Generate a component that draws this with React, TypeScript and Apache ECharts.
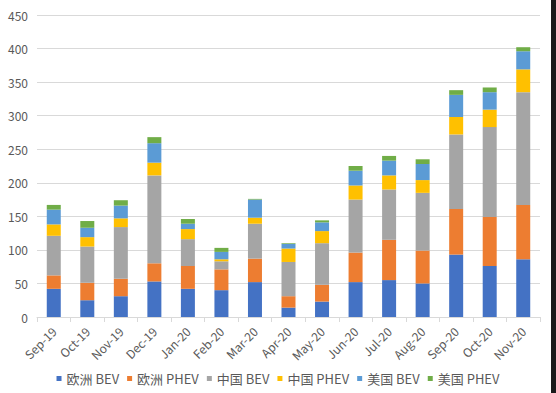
import React, { useEffect, useRef } from "react";
import * as echarts from "echarts";

const categories = ["Sep-19", "Oct-19", "Nov-19", "Dec-19", "Jan-20", "Feb-20", "Mar-20", "Apr-20", "May-20", "Jun-20", "Jul-20", "Aug-20", "Sep-20", "Oct-20", "Nov-20"];
const euBEV = [42, 25, 31, 53, 42, 40, 52, 14, 23, 52, 55, 50, 93, 76, 86];
const euPHEV = [20, 26, 26, 27, 34, 31, 35, 17, 25, 44, 60, 49, 68, 73, 81];
const cnBEV = [59, 54, 77, 131, 40, 12, 52, 51, 62, 79, 75, 86, 111, 134, 168];
const cnPHEV = [17, 14, 13, 19, 15, 3, 9, 20, 18, 21, 21, 19, 26, 26, 34];
const usBEV = [22, 14, 19, 29, 8, 11, 27, 7, 13, 22, 22, 24, 33, 26, 27];
const usPHEV = [7, 10, 8, 9, 7, 6, 1, 1, 3, 7, 7, 7, 7, 7, 6];
const seriesNames = ["欧洲 BEV", "欧洲 PHEV", "中国 BEV", "中国 PHEV", "美国 BEV", "美国 PHEV"];
const seriesColors = ["#4472C4", "#ED7D31", "#A5A5A5", "#FFC000", "#5B9BD5", "#70AD47"];

export default function App() {
  const ref = useRef<HTMLDivElement>(null);
  useEffect(() => {
    if (!ref.current) return;
    const chart = echarts.init(ref.current, null, { renderer: "svg" });
    const data = [euBEV, euPHEV, cnBEV, cnPHEV, usBEV, usPHEV];
    const font = "'Noto Sans CJK SC', 'Noto Sans', sans-serif";
    chart.setOption({
      animation: false,
      backgroundColor: "#ffffff",
      textStyle: { fontFamily: font },
      grid: { left: 37, right: 16, top: 15, bottom: 76 },
      legend: {
        bottom: 3,
        left: "center",
        itemWidth: 5,
        itemHeight: 5,
        itemGap: 8,
        icon: "rect",
        textStyle: { color: "#595959", fontSize: 13, fontFamily: font },
        data: seriesNames,
      },
      xAxis: {
        type: "category",
        data: categories,
        boundaryGap: true,
        axisLine: { lineStyle: { color: "#D9D9D9" } },
        axisTick: { show: true, alignWithLabel: false, length: 5, lineStyle: { color: "#D9D9D9" } },
        axisLabel: { rotate: 45, color: "#595959", fontSize: 12, margin: 12, interval: 0 },
      },
      yAxis: {
        type: "value",
        min: 0,
        max: 450,
        interval: 50,
        axisLine: { show: false },
        axisTick: { show: false },
        axisLabel: { color: "#595959", fontSize: 12, margin: 9 },
        splitLine: { lineStyle: { color: "#D9D9D9" } },
      },
      series: data.map((d, i) => ({
        name: seriesNames[i],
        type: "bar",
        stack: "total",
        barWidth: 14,
        itemStyle: { color: seriesColors[i] },
        data: d,
      })),
      graphic: [
        { type: "rect", left: 551, top: 0, shape: { width: 5, height: 393 }, style: { fill: "#1a1a1a" } },
      ],
    });
    return () => chart.dispose();
  }, []);
  return <div ref={ref} style={{ position: "fixed", left: 0, top: 0, width: 556, height: 393 }} />;
}
